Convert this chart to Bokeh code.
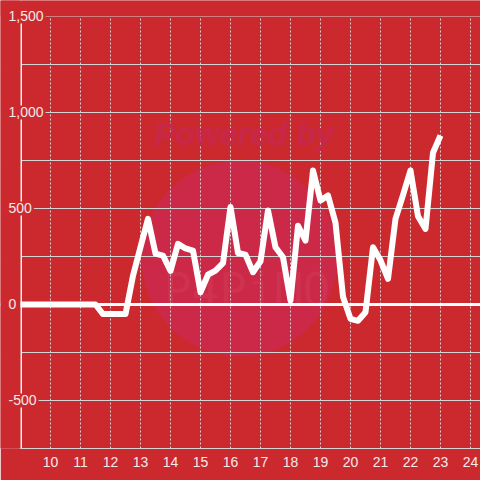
from bokeh.plotting import figure
from bokeh.models import (Range1d, FixedTicker, SingleIntervalTicker, Span, Label,
                          BoxAnnotation)
from bokeh.embed import file_html
from bokeh.resources import INLINE

# ---- data ----
x_vals = [9.0, 9.25, 9.5, 9.75, 10.0, 10.25, 10.5, 10.75, 11.0, 11.25, 11.5,
          11.75, 12.0, 12.25, 12.5, 12.75, 13.0, 13.25, 13.5, 13.75, 14.0,
          14.25, 14.5, 14.75, 15.0, 15.25, 15.5, 15.75, 16.0, 16.25, 16.5,
          16.75, 17.0, 17.25, 17.5, 17.75, 18.0, 18.25, 18.5, 18.75, 19.0,
          19.25, 19.5, 19.75, 20.0, 20.25, 20.5, 20.75, 21.0, 21.25, 21.5,
          21.75, 22.0, 22.25, 22.5, 22.75, 23.0]
y_vals = [0, 0, 0, 0, 0, 0, 0, 0, 0, 0, 0,
          -50, -50, -50, -50, 150, 300, 446, 265, 255, 175,
          316, 292, 281, 64, 155, 177, 216, 508, 268, 260,
          168, 225, 490, 298, 246, 21, 410, 333, 698, 542,
          568, 425, 40, -75, -85, -40, 298, 230, 134, 446,
          570, 698, 460, 394, 790, 880]

x_ticks = list(range(10, 25))
y_label_values = [-500, 0, 500, 1000, 1500]
y_label_texts = ["-500", "0", "500", "1,000", "1,500"]

BG = "#cc292e"
GRID = "#d4d4d4"
TXT = "#f2eaea"
AXIS_X = 9          # x where the y axis sits
Y_MIN, Y_MAX = -750, 1500
X_RANGE = (8.3333, 24.3333)
Y_RANGE = (-750, 1583.3)

p = figure(width=480, height=480, output_backend="svg", toolbar_location=None,
           x_range=Range1d(*X_RANGE), y_range=Range1d(*Y_RANGE),
           min_border_left=0, min_border_right=0, min_border_top=0,
           min_border_bottom=32)
p.background_fill_color = BG
p.border_fill_color = BG
p.outline_line_color = None

# watermark
p.circle(x=[16.3], y=[240], radius=98, radius_units="screen",
         fill_color="#cc2848", line_color=None, level="image")
p.add_layout(Label(x=16.45, y=890, text="Powered by", text_align="center",
                   text_baseline="middle", text_font="Liberation Sans",
                   text_font_style="bold italic", text_font_size="32px",
                   text_color="#c7284a", level="underlay"))
p.add_layout(Label(x=16.55, y=73, text="P4PiMO", text_align="center",
                   text_baseline="middle", text_font="DejaVu Sans Mono",
                   text_font_size="46px", text_color="#e06070",
                   text_alpha=0.2, level="underlay"))

# grids
p.xgrid.ticker = FixedTicker(ticks=x_ticks)
p.xgrid.grid_line_color = GRID
p.xgrid.grid_line_dash = "2 2"
p.xgrid.grid_line_width = 1
p.ygrid.ticker = SingleIntervalTicker(interval=250)
p.ygrid.grid_line_color = GRID
p.ygrid.grid_line_width = 1

# zero line and y-axis line
p.add_layout(Span(location=0, dimension="width", line_color="white",
                  line_width=3, level="underlay"))
p.add_layout(Span(location=AXIS_X, dimension="height", line_color="#f4f0f0",
                  line_width=3, level="underlay"))

# masks outside the plotting area (left of axis, above top value)
p.add_layout(BoxAnnotation(right=AXIS_X, fill_color=BG, fill_alpha=1,
                           line_color=None, level="underlay"))
p.add_layout(BoxAnnotation(bottom=Y_MAX, fill_color=BG, fill_alpha=1,
                           line_color=None, level="underlay"))

# x axis
p.xaxis.ticker = FixedTicker(ticks=x_ticks)
p.xaxis.bounds = (AXIS_X, X_RANGE[1])
p.xaxis.axis_line_color = GRID
p.xaxis.axis_line_width = 1
p.xaxis.major_tick_line_color = None
p.xaxis.minor_tick_line_color = None
p.xaxis.major_label_text_color = TXT
p.xaxis.major_label_text_font = "Liberation Sans"
p.xaxis.major_label_text_font_size = "14px"
p.xaxis.major_label_standoff = 2
p.yaxis.visible = False

p.line(x_vals, y_vals, line_color="white", line_width=6, line_join="round")

for v, t in zip(y_label_values, y_label_texts):
    p.add_layout(Label(x=AXIS_X, y=v, text=t, x_offset=-14,
                       text_align="left", text_baseline="middle",
                       text_font="Liberation Sans", text_font_size="14px",
                       text_color=TXT, background_fill_color=BG, padding=2))

open("out.html", "w").write(file_html(p, INLINE))
